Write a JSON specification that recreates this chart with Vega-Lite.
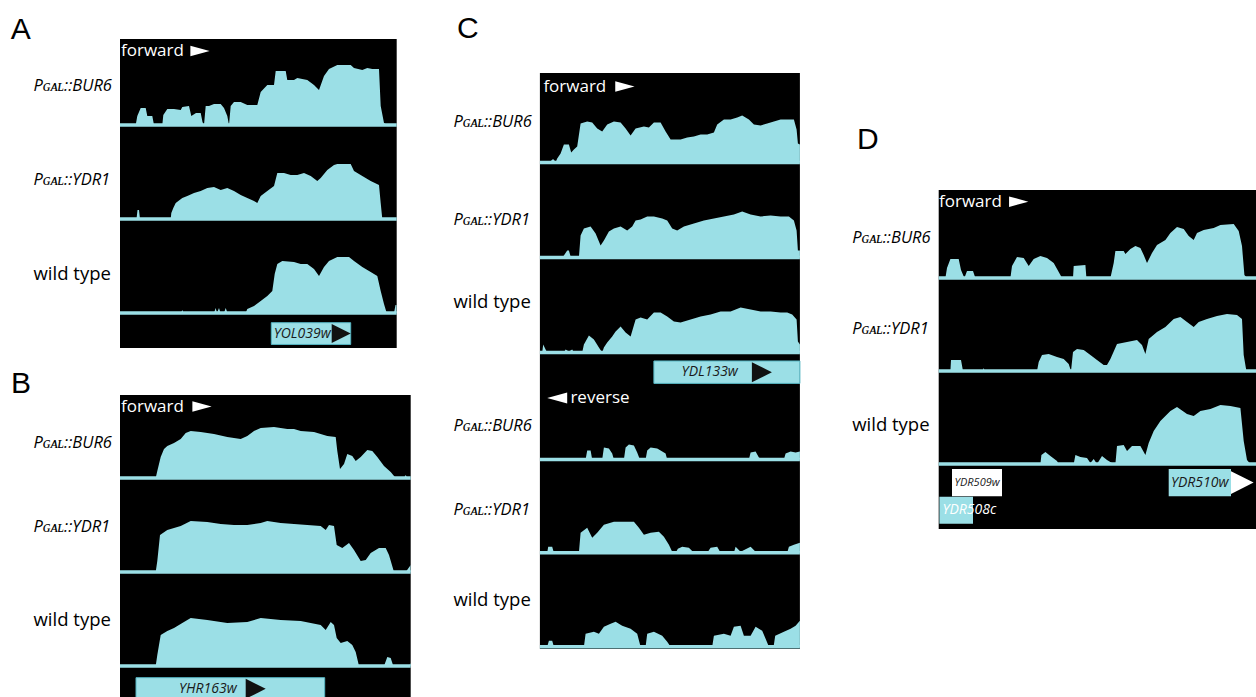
{
"$schema": "https://vega.github.io/schema/vega-lite/v6.json",
"padding": {"left": 10, "top": 0, "right": 0, "bottom": 0},
"background": "white",
"datasets": {
"A": [
{"t":"BUR6","x":0,"y":0},{"t":"BUR6","x":15.7,"y":0},{"t":"BUR6","x":17.3,"y":9},{"t":"BUR6","x":20.7,"y":17},{"t":"BUR6","x":25.7,"y":17},{"t":"BUR6","x":27.3,"y":9},{"t":"BUR6","x":32.3,"y":9},{"t":"BUR6","x":34,"y":0},{"t":"BUR6","x":42.3,"y":0},{"t":"BUR6","x":43.3,"y":10},{"t":"BUR6","x":47.3,"y":16},{"t":"BUR6","x":54,"y":16},{"t":"BUR6","x":60.7,"y":15},{"t":"BUR6","x":62.3,"y":18},{"t":"BUR6","x":69,"y":19},{"t":"BUR6","x":71.3,"y":9},{"t":"BUR6","x":76,"y":12},{"t":"BUR6","x":80.7,"y":12},{"t":"BUR6","x":82.5,"y":3},{"t":"BUR6","x":84,"y":0},{"t":"BUR6","x":85.7,"y":19},{"t":"BUR6","x":89,"y":19},{"t":"BUR6","x":94,"y":21},{"t":"BUR6","x":100.7,"y":21},{"t":"BUR6","x":104,"y":17},{"t":"BUR6","x":107.3,"y":9},{"t":"BUR6","x":109,"y":0},{"t":"BUR6","x":110.7,"y":19},{"t":"BUR6","x":114,"y":23},{"t":"BUR6","x":120.7,"y":23},{"t":"BUR6","x":127.3,"y":20},{"t":"BUR6","x":137.3,"y":20},{"t":"BUR6","x":140.7,"y":33},{"t":"BUR6","x":147.3,"y":40},{"t":"BUR6","x":154,"y":40},{"t":"BUR6","x":155.7,"y":54},{"t":"BUR6","x":165.7,"y":54},{"t":"BUR6","x":167.3,"y":45},{"t":"BUR6","x":174,"y":45},{"t":"BUR6","x":177.3,"y":47},{"t":"BUR6","x":187.3,"y":45},{"t":"BUR6","x":194,"y":40},{"t":"BUR6","x":199,"y":35},{"t":"BUR6","x":204,"y":49},{"t":"BUR6","x":209,"y":56},{"t":"BUR6","x":217.3,"y":60},{"t":"BUR6","x":230.7,"y":60},{"t":"BUR6","x":234,"y":57},{"t":"BUR6","x":242.3,"y":55},{"t":"BUR6","x":247.3,"y":57},{"t":"BUR6","x":252.3,"y":56},{"t":"BUR6","x":259,"y":56},{"t":"BUR6","x":260.7,"y":19},{"t":"BUR6","x":264,"y":2},{"t":"BUR6","x":267.3,"y":0},{"t":"BUR6","x":276.7,"y":0},
{"t":"YDR1","x":0,"y":0},{"t":"YDR1","x":16.5,"y":0},{"t":"YDR1","x":17.5,"y":9},{"t":"YDR1","x":19,"y":9},{"t":"YDR1","x":20,"y":0},{"t":"YDR1","x":50.7,"y":0},{"t":"YDR1","x":51.3,"y":6},{"t":"YDR1","x":53.3,"y":11},{"t":"YDR1","x":55.7,"y":16},{"t":"YDR1","x":62.3,"y":21},{"t":"YDR1","x":67.3,"y":23},{"t":"YDR1","x":74,"y":26},{"t":"YDR1","x":80.7,"y":28},{"t":"YDR1","x":87.3,"y":31},{"t":"YDR1","x":94,"y":32},{"t":"YDR1","x":100.7,"y":29},{"t":"YDR1","x":107.3,"y":31},{"t":"YDR1","x":114,"y":28},{"t":"YDR1","x":120.7,"y":24},{"t":"YDR1","x":127.3,"y":21},{"t":"YDR1","x":134,"y":18},{"t":"YDR1","x":137.3,"y":16},{"t":"YDR1","x":140.7,"y":23},{"t":"YDR1","x":147.3,"y":28},{"t":"YDR1","x":154,"y":33},{"t":"YDR1","x":157.3,"y":46},{"t":"YDR1","x":164,"y":46},{"t":"YDR1","x":170.7,"y":44},{"t":"YDR1","x":177.3,"y":44},{"t":"YDR1","x":184,"y":46},{"t":"YDR1","x":190.7,"y":43},{"t":"YDR1","x":197.3,"y":38},{"t":"YDR1","x":200.7,"y":41},{"t":"YDR1","x":207.3,"y":49},{"t":"YDR1","x":214,"y":54},{"t":"YDR1","x":217.3,"y":55},{"t":"YDR1","x":230.7,"y":55},{"t":"YDR1","x":234,"y":48},{"t":"YDR1","x":242.3,"y":43},{"t":"YDR1","x":250.7,"y":38},{"t":"YDR1","x":259,"y":34},{"t":"YDR1","x":260.7,"y":16},{"t":"YDR1","x":262.3,"y":0},{"t":"YDR1","x":276.7,"y":0},
{"t":"WT","x":0,"y":0},{"t":"WT","x":61,"y":0},{"t":"WT","x":62.3,"y":3},{"t":"WT","x":63.5,"y":0},{"t":"WT","x":94,"y":0},{"t":"WT","x":95.7,"y":5},{"t":"WT","x":97,"y":0},{"t":"WT","x":99,"y":5},{"t":"WT","x":100.5,"y":0},{"t":"WT","x":104,"y":0},{"t":"WT","x":105.7,"y":5},{"t":"WT","x":107.5,"y":0},{"t":"WT","x":125.7,"y":0},{"t":"WT","x":127.3,"y":4},{"t":"WT","x":134,"y":7},{"t":"WT","x":140.7,"y":12},{"t":"WT","x":147.3,"y":17},{"t":"WT","x":152.3,"y":22},{"t":"WT","x":154.7,"y":39},{"t":"WT","x":157.3,"y":49},{"t":"WT","x":162.3,"y":52},{"t":"WT","x":174,"y":51},{"t":"WT","x":180.7,"y":49},{"t":"WT","x":187.3,"y":49},{"t":"WT","x":194,"y":44},{"t":"WT","x":199,"y":37},{"t":"WT","x":204,"y":46},{"t":"WT","x":209,"y":52},{"t":"WT","x":217.3,"y":56},{"t":"WT","x":229,"y":56},{"t":"WT","x":234,"y":52},{"t":"WT","x":242.3,"y":46},{"t":"WT","x":250.7,"y":41},{"t":"WT","x":257.3,"y":37},{"t":"WT","x":260.7,"y":22},{"t":"WT","x":264,"y":9},{"t":"WT","x":266.7,"y":0},{"t":"WT","x":274,"y":0},{"t":"WT","x":275.5,"y":8},{"t":"WT","x":276.7,"y":8}
],
"B": [
{"t":"BUR6","x":0,"y":0},{"t":"BUR6","x":35.7,"y":0},{"t":"BUR6","x":37.3,"y":7},{"t":"BUR6","x":40.7,"y":21},{"t":"BUR6","x":44,"y":29},{"t":"BUR6","x":47.3,"y":32},{"t":"BUR6","x":54,"y":35},{"t":"BUR6","x":60.7,"y":39},{"t":"BUR6","x":65.7,"y":45},{"t":"BUR6","x":70.7,"y":47},{"t":"BUR6","x":80.7,"y":46},{"t":"BUR6","x":94,"y":44},{"t":"BUR6","x":107.3,"y":41},{"t":"BUR6","x":120.7,"y":39},{"t":"BUR6","x":127.3,"y":42},{"t":"BUR6","x":134,"y":47},{"t":"BUR6","x":140.7,"y":50},{"t":"BUR6","x":154,"y":51},{"t":"BUR6","x":167.3,"y":49},{"t":"BUR6","x":174,"y":49},{"t":"BUR6","x":180.7,"y":47},{"t":"BUR6","x":194,"y":46},{"t":"BUR6","x":207.3,"y":42},{"t":"BUR6","x":215.7,"y":41},{"t":"BUR6","x":217.3,"y":27},{"t":"BUR6","x":220,"y":9},{"t":"BUR6","x":224,"y":14},{"t":"BUR6","x":227.3,"y":24},{"t":"BUR6","x":232.3,"y":22},{"t":"BUR6","x":235.7,"y":17},{"t":"BUR6","x":240.7,"y":21},{"t":"BUR6","x":247.3,"y":28},{"t":"BUR6","x":252.3,"y":27},{"t":"BUR6","x":257.3,"y":21},{"t":"BUR6","x":264,"y":12},{"t":"BUR6","x":270.7,"y":6},{"t":"BUR6","x":275.7,"y":0},{"t":"BUR6","x":284,"y":0},{"t":"BUR6","x":285.7,"y":3},{"t":"BUR6","x":287.3,"y":0},{"t":"BUR6","x":290.7,"y":0},
{"t":"YDR1","x":0,"y":0},{"t":"YDR1","x":35.7,"y":0},{"t":"YDR1","x":37.3,"y":11},{"t":"YDR1","x":40,"y":37},{"t":"YDR1","x":47.3,"y":42},{"t":"YDR1","x":60.7,"y":46},{"t":"YDR1","x":70.7,"y":51},{"t":"YDR1","x":87.3,"y":50},{"t":"YDR1","x":100.7,"y":48},{"t":"YDR1","x":114,"y":47},{"t":"YDR1","x":127.3,"y":47},{"t":"YDR1","x":140.7,"y":49},{"t":"YDR1","x":147.3,"y":51},{"t":"YDR1","x":160.7,"y":49},{"t":"YDR1","x":174,"y":48},{"t":"YDR1","x":187.3,"y":47},{"t":"YDR1","x":200.7,"y":46},{"t":"YDR1","x":205.7,"y":42},{"t":"YDR1","x":209,"y":47},{"t":"YDR1","x":214,"y":46},{"t":"YDR1","x":216.7,"y":27},{"t":"YDR1","x":222.3,"y":24},{"t":"YDR1","x":229,"y":29},{"t":"YDR1","x":234,"y":22},{"t":"YDR1","x":240.7,"y":11},{"t":"YDR1","x":245.7,"y":12},{"t":"YDR1","x":250.7,"y":19},{"t":"YDR1","x":259,"y":24},{"t":"YDR1","x":265.7,"y":24},{"t":"YDR1","x":269,"y":17},{"t":"YDR1","x":274,"y":0},{"t":"YDR1","x":285.7,"y":0},{"t":"YDR1","x":290.7,"y":7},
{"t":"WT","x":0,"y":0},{"t":"WT","x":35.7,"y":0},{"t":"WT","x":37.3,"y":11},{"t":"WT","x":40.7,"y":31},{"t":"WT","x":47.3,"y":35},{"t":"WT","x":54,"y":38},{"t":"WT","x":62.3,"y":43},{"t":"WT","x":70.7,"y":48},{"t":"WT","x":87.3,"y":46},{"t":"WT","x":107.3,"y":43},{"t":"WT","x":127.3,"y":44},{"t":"WT","x":140.7,"y":48},{"t":"WT","x":160.7,"y":46},{"t":"WT","x":180.7,"y":45},{"t":"WT","x":200.7,"y":41},{"t":"WT","x":205.7,"y":36},{"t":"WT","x":210.7,"y":44},{"t":"WT","x":214,"y":41},{"t":"WT","x":216.7,"y":28},{"t":"WT","x":220.7,"y":23},{"t":"WT","x":227.3,"y":25},{"t":"WT","x":232.3,"y":21},{"t":"WT","x":235.7,"y":14},{"t":"WT","x":239,"y":0},{"t":"WT","x":264,"y":0},{"t":"WT","x":267.3,"y":9},{"t":"WT","x":270.7,"y":8},{"t":"WT","x":273.3,"y":0},{"t":"WT","x":289,"y":0},{"t":"WT","x":290.7,"y":3}
],
"C": [
{"t":"fBUR6","x":0,"y":1},{"t":"fBUR6","x":10.7,"y":1},{"t":"fBUR6","x":12.3,"y":3},{"t":"fBUR6","x":14,"y":3},{"t":"fBUR6","x":15.7,"y":0},{"t":"fBUR6","x":17.3,"y":4},{"t":"fBUR6","x":20.7,"y":9},{"t":"fBUR6","x":24,"y":18},{"t":"fBUR6","x":29,"y":18},{"t":"fBUR6","x":31.3,"y":10},{"t":"fBUR6","x":34,"y":13},{"t":"fBUR6","x":37.3,"y":16},{"t":"fBUR6","x":40.7,"y":39},{"t":"fBUR6","x":47.3,"y":41},{"t":"fBUR6","x":52.3,"y":40},{"t":"fBUR6","x":57.3,"y":34},{"t":"fBUR6","x":62.3,"y":31},{"t":"fBUR6","x":67.3,"y":38},{"t":"fBUR6","x":74,"y":41},{"t":"fBUR6","x":80.7,"y":40},{"t":"fBUR6","x":85.7,"y":34},{"t":"fBUR6","x":90.7,"y":27},{"t":"fBUR6","x":95.7,"y":34},{"t":"fBUR6","x":104,"y":36},{"t":"fBUR6","x":109,"y":35},{"t":"fBUR6","x":114,"y":40},{"t":"fBUR6","x":120.7,"y":40},{"t":"fBUR6","x":125.7,"y":31},{"t":"fBUR6","x":130.7,"y":23},{"t":"fBUR6","x":140.7,"y":23},{"t":"fBUR6","x":147.3,"y":25},{"t":"fBUR6","x":154,"y":26},{"t":"fBUR6","x":160.7,"y":28},{"t":"fBUR6","x":167.3,"y":28},{"t":"fBUR6","x":174,"y":30},{"t":"fBUR6","x":177.3,"y":38},{"t":"fBUR6","x":184,"y":43},{"t":"fBUR6","x":190.7,"y":43},{"t":"fBUR6","x":197.3,"y":45},{"t":"fBUR6","x":202.3,"y":47},{"t":"fBUR6","x":209,"y":43},{"t":"fBUR6","x":214,"y":38},{"t":"fBUR6","x":220.7,"y":37},{"t":"fBUR6","x":227.3,"y":39},{"t":"fBUR6","x":234,"y":41},{"t":"fBUR6","x":240.7,"y":43},{"t":"fBUR6","x":247.3,"y":43},{"t":"fBUR6","x":254,"y":43},{"t":"fBUR6","x":256.7,"y":33},{"t":"fBUR6","x":258,"y":19},{"t":"fBUR6","x":260,"y":18},
{"t":"fYDR1","x":0,"y":0},{"t":"fYDR1","x":22.3,"y":0},{"t":"fYDR1","x":24,"y":2},{"t":"fYDR1","x":27.3,"y":7},{"t":"fYDR1","x":29,"y":7},{"t":"fYDR1","x":30.7,"y":1},{"t":"fYDR1","x":34,"y":0},{"t":"fYDR1","x":39,"y":0},{"t":"fYDR1","x":40.7,"y":22},{"t":"fYDR1","x":44,"y":29},{"t":"fYDR1","x":50.7,"y":31},{"t":"fYDR1","x":55.7,"y":24},{"t":"fYDR1","x":60.7,"y":12},{"t":"fYDR1","x":64,"y":17},{"t":"fYDR1","x":69,"y":26},{"t":"fYDR1","x":74,"y":29},{"t":"fYDR1","x":80.7,"y":31},{"t":"fYDR1","x":87.3,"y":27},{"t":"fYDR1","x":92.3,"y":31},{"t":"fYDR1","x":95.7,"y":37},{"t":"fYDR1","x":100.7,"y":38},{"t":"fYDR1","x":107.3,"y":41},{"t":"fYDR1","x":114,"y":41},{"t":"fYDR1","x":122.3,"y":39},{"t":"fYDR1","x":127.3,"y":37},{"t":"fYDR1","x":132.3,"y":29},{"t":"fYDR1","x":137.3,"y":27},{"t":"fYDR1","x":144,"y":31},{"t":"fYDR1","x":154,"y":34},{"t":"fYDR1","x":164,"y":37},{"t":"fYDR1","x":174,"y":39},{"t":"fYDR1","x":184,"y":41},{"t":"fYDR1","x":194,"y":43},{"t":"fYDR1","x":202.3,"y":46},{"t":"fYDR1","x":210.7,"y":43},{"t":"fYDR1","x":220.7,"y":41},{"t":"fYDR1","x":230.7,"y":42},{"t":"fYDR1","x":240.7,"y":41},{"t":"fYDR1","x":249,"y":41},{"t":"fYDR1","x":254,"y":37},{"t":"fYDR1","x":256.7,"y":27},{"t":"fYDR1","x":258,"y":7},{"t":"fYDR1","x":260,"y":7},
{"t":"fWT","x":0,"y":0},{"t":"fWT","x":2.3,"y":0},{"t":"fWT","x":3.3,"y":8},{"t":"fWT","x":5.7,"y":3},{"t":"fWT","x":7.3,"y":0},{"t":"fWT","x":24,"y":0},{"t":"fWT","x":25.7,"y":3},{"t":"fWT","x":29,"y":1},{"t":"fWT","x":32.3,"y":3},{"t":"fWT","x":34,"y":0},{"t":"fWT","x":42.3,"y":0},{"t":"fWT","x":44,"y":8},{"t":"fWT","x":49,"y":17},{"t":"fWT","x":54,"y":13},{"t":"fWT","x":59,"y":5},{"t":"fWT","x":62.3,"y":0},{"t":"fWT","x":64,"y":5},{"t":"fWT","x":67.3,"y":10},{"t":"fWT","x":72.3,"y":16},{"t":"fWT","x":75.7,"y":21},{"t":"fWT","x":80.7,"y":26},{"t":"fWT","x":85.7,"y":20},{"t":"fWT","x":90.7,"y":16},{"t":"fWT","x":95.7,"y":33},{"t":"fWT","x":100.7,"y":35},{"t":"fWT","x":107.3,"y":33},{"t":"fWT","x":114,"y":40},{"t":"fWT","x":120.7,"y":40},{"t":"fWT","x":127.3,"y":36},{"t":"fWT","x":134,"y":31},{"t":"fWT","x":140.7,"y":30},{"t":"fWT","x":150.7,"y":33},{"t":"fWT","x":160.7,"y":36},{"t":"fWT","x":170.7,"y":38},{"t":"fWT","x":180.7,"y":41},{"t":"fWT","x":190.7,"y":41},{"t":"fWT","x":200.7,"y":45},{"t":"fWT","x":210.7,"y":43},{"t":"fWT","x":220.7,"y":41},{"t":"fWT","x":230.7,"y":41},{"t":"fWT","x":240.7,"y":40},{"t":"fWT","x":247.3,"y":40},{"t":"fWT","x":252.3,"y":38},{"t":"fWT","x":256.7,"y":33},{"t":"fWT","x":258,"y":11},{"t":"fWT","x":260,"y":8},
{"t":"rBUR6","x":0,"y":0},{"t":"rBUR6","x":45.7,"y":0},{"t":"rBUR6","x":47.3,"y":9},{"t":"rBUR6","x":50.7,"y":9},{"t":"rBUR6","x":52.3,"y":0},{"t":"rBUR6","x":62.3,"y":0},{"t":"rBUR6","x":64,"y":12},{"t":"rBUR6","x":69,"y":11},{"t":"rBUR6","x":72.3,"y":6},{"t":"rBUR6","x":74,"y":0},{"t":"rBUR6","x":84,"y":0},{"t":"rBUR6","x":85.7,"y":12},{"t":"rBUR6","x":89,"y":15},{"t":"rBUR6","x":94,"y":14},{"t":"rBUR6","x":97.3,"y":7},{"t":"rBUR6","x":100,"y":0},{"t":"rBUR6","x":105.7,"y":0},{"t":"rBUR6","x":107.3,"y":9},{"t":"rBUR6","x":110.7,"y":12},{"t":"rBUR6","x":117.3,"y":11},{"t":"rBUR6","x":120.7,"y":9},{"t":"rBUR6","x":125.7,"y":6},{"t":"rBUR6","x":127.3,"y":0},{"t":"rBUR6","x":209,"y":0},{"t":"rBUR6","x":210.7,"y":7},{"t":"rBUR6","x":215.7,"y":8},{"t":"rBUR6","x":219,"y":2},{"t":"rBUR6","x":222.3,"y":0},{"t":"rBUR6","x":244,"y":0},{"t":"rBUR6","x":245.7,"y":6},{"t":"rBUR6","x":250.7,"y":8},{"t":"rBUR6","x":255.7,"y":7},{"t":"rBUR6","x":260,"y":8},
{"t":"rYDR1","x":0,"y":0},{"t":"rYDR1","x":7.3,"y":0},{"t":"rYDR1","x":8.3,"y":6},{"t":"rYDR1","x":12.3,"y":6},{"t":"rYDR1","x":14,"y":0},{"t":"rYDR1","x":39,"y":0},{"t":"rYDR1","x":40.7,"y":20},{"t":"rYDR1","x":47.3,"y":25},{"t":"rYDR1","x":52.3,"y":15},{"t":"rYDR1","x":57.3,"y":20},{"t":"rYDR1","x":64,"y":28},{"t":"rYDR1","x":74,"y":31},{"t":"rYDR1","x":84,"y":31},{"t":"rYDR1","x":94,"y":31},{"t":"rYDR1","x":99,"y":25},{"t":"rYDR1","x":104,"y":18},{"t":"rYDR1","x":110.7,"y":20},{"t":"rYDR1","x":119,"y":21},{"t":"rYDR1","x":124,"y":16},{"t":"rYDR1","x":129,"y":8},{"t":"rYDR1","x":132.3,"y":1},{"t":"rYDR1","x":135.7,"y":0},{"t":"rYDR1","x":138,"y":4},{"t":"rYDR1","x":142.3,"y":6},{"t":"rYDR1","x":149,"y":5},{"t":"rYDR1","x":154,"y":0},{"t":"rYDR1","x":167.3,"y":0},{"t":"rYDR1","x":170.7,"y":5},{"t":"rYDR1","x":177.3,"y":6},{"t":"rYDR1","x":180.7,"y":0},{"t":"rYDR1","x":194,"y":0},{"t":"rYDR1","x":195.7,"y":6},{"t":"rYDR1","x":200.7,"y":1},{"t":"rYDR1","x":210.7,"y":6},{"t":"rYDR1","x":215.7,"y":1},{"t":"rYDR1","x":220.7,"y":0},{"t":"rYDR1","x":247.3,"y":0},{"t":"rYDR1","x":249,"y":6},{"t":"rYDR1","x":254,"y":8},{"t":"rYDR1","x":260,"y":10},
{"t":"rWT","x":0,"y":0},{"t":"rWT","x":7.3,"y":0},{"t":"rWT","x":9,"y":6},{"t":"rWT","x":12.3,"y":6},{"t":"rWT","x":14,"y":0},{"t":"rWT","x":44,"y":0},{"t":"rWT","x":45.7,"y":13},{"t":"rWT","x":54,"y":15},{"t":"rWT","x":59,"y":13},{"t":"rWT","x":64,"y":20},{"t":"rWT","x":70.7,"y":23},{"t":"rWT","x":75.7,"y":25},{"t":"rWT","x":82.3,"y":21},{"t":"rWT","x":90.7,"y":18},{"t":"rWT","x":97.3,"y":13},{"t":"rWT","x":100.7,"y":0},{"t":"rWT","x":105.7,"y":0},{"t":"rWT","x":107.3,"y":13},{"t":"rWT","x":114,"y":15},{"t":"rWT","x":122.3,"y":11},{"t":"rWT","x":127.3,"y":5},{"t":"rWT","x":130.7,"y":0},{"t":"rWT","x":172.3,"y":0},{"t":"rWT","x":174,"y":11},{"t":"rWT","x":184,"y":13},{"t":"rWT","x":190.7,"y":11},{"t":"rWT","x":194,"y":20},{"t":"rWT","x":200.7,"y":21},{"t":"rWT","x":204,"y":11},{"t":"rWT","x":210.7,"y":11},{"t":"rWT","x":215.7,"y":20},{"t":"rWT","x":222.3,"y":16},{"t":"rWT","x":225.7,"y":8},{"t":"rWT","x":229,"y":0},{"t":"rWT","x":233.7,"y":0},{"t":"rWT","x":235.3,"y":11},{"t":"rWT","x":244,"y":15},{"t":"rWT","x":250.7,"y":18},{"t":"rWT","x":255.7,"y":21},{"t":"rWT","x":260,"y":26}
],
"D": [
{"t":"BUR6","x":0,"y":0},{"t":"BUR6","x":6.7,"y":0},{"t":"BUR6","x":8.3,"y":10},{"t":"BUR6","x":11.7,"y":19},{"t":"BUR6","x":20,"y":19},{"t":"BUR6","x":22.3,"y":8},{"t":"BUR6","x":25.7,"y":0},{"t":"BUR6","x":28.3,"y":7},{"t":"BUR6","x":34.3,"y":7},{"t":"BUR6","x":36.7,"y":0},{"t":"BUR6","x":71.7,"y":0},{"t":"BUR6","x":73.3,"y":12},{"t":"BUR6","x":78.3,"y":21},{"t":"BUR6","x":85,"y":20},{"t":"BUR6","x":90,"y":12},{"t":"BUR6","x":95,"y":19},{"t":"BUR6","x":101.7,"y":22},{"t":"BUR6","x":108.3,"y":20},{"t":"BUR6","x":115,"y":15},{"t":"BUR6","x":121.7,"y":3},{"t":"BUR6","x":123.3,"y":0},{"t":"BUR6","x":134.3,"y":0},{"t":"BUR6","x":135,"y":12},{"t":"BUR6","x":146.7,"y":13},{"t":"BUR6","x":147.7,"y":0},{"t":"BUR6","x":171.7,"y":0},{"t":"BUR6","x":175,"y":15},{"t":"BUR6","x":176.7,"y":27},{"t":"BUR6","x":185,"y":27},{"t":"BUR6","x":186.7,"y":24},{"t":"BUR6","x":191.7,"y":29},{"t":"BUR6","x":196.7,"y":32},{"t":"BUR6","x":201.7,"y":30},{"t":"BUR6","x":205,"y":23},{"t":"BUR6","x":208.3,"y":15},{"t":"BUR6","x":213.3,"y":25},{"t":"BUR6","x":218.3,"y":33},{"t":"BUR6","x":226.7,"y":38},{"t":"BUR6","x":231.7,"y":45},{"t":"BUR6","x":238.3,"y":51},{"t":"BUR6","x":245,"y":49},{"t":"BUR6","x":250,"y":42},{"t":"BUR6","x":255,"y":38},{"t":"BUR6","x":258.3,"y":45},{"t":"BUR6","x":265,"y":48},{"t":"BUR6","x":275,"y":50},{"t":"BUR6","x":281.7,"y":53},{"t":"BUR6","x":295,"y":54},{"t":"BUR6","x":300,"y":47},{"t":"BUR6","x":303.3,"y":32},{"t":"BUR6","x":305.7,"y":3},{"t":"BUR6","x":308.3,"y":0},{"t":"BUR6","x":317.7,"y":0},
{"t":"YDR1","x":0,"y":0},{"t":"YDR1","x":11.7,"y":0},{"t":"YDR1","x":12.3,"y":11},{"t":"YDR1","x":22.3,"y":11},{"t":"YDR1","x":24.3,"y":0},{"t":"YDR1","x":44,"y":0},{"t":"YDR1","x":45,"y":3},{"t":"YDR1","x":46,"y":0},{"t":"YDR1","x":98.3,"y":0},{"t":"YDR1","x":100,"y":9},{"t":"YDR1","x":103.3,"y":16},{"t":"YDR1","x":110,"y":17},{"t":"YDR1","x":118.3,"y":14},{"t":"YDR1","x":125,"y":12},{"t":"YDR1","x":130,"y":7},{"t":"YDR1","x":132.3,"y":0},{"t":"YDR1","x":134.3,"y":19},{"t":"YDR1","x":138.3,"y":22},{"t":"YDR1","x":145,"y":21},{"t":"YDR1","x":151.7,"y":16},{"t":"YDR1","x":158.3,"y":11},{"t":"YDR1","x":165,"y":6},{"t":"YDR1","x":168.3,"y":6},{"t":"YDR1","x":171.7,"y":12},{"t":"YDR1","x":178.3,"y":27},{"t":"YDR1","x":188.3,"y":29},{"t":"YDR1","x":198.3,"y":31},{"t":"YDR1","x":203.3,"y":26},{"t":"YDR1","x":206.7,"y":17},{"t":"YDR1","x":210,"y":32},{"t":"YDR1","x":218.3,"y":39},{"t":"YDR1","x":226.7,"y":44},{"t":"YDR1","x":235,"y":52},{"t":"YDR1","x":241.7,"y":54},{"t":"YDR1","x":248.3,"y":49},{"t":"YDR1","x":255,"y":44},{"t":"YDR1","x":260,"y":49},{"t":"YDR1","x":268.3,"y":52},{"t":"YDR1","x":278.3,"y":55},{"t":"YDR1","x":288.3,"y":57},{"t":"YDR1","x":298.3,"y":56},{"t":"YDR1","x":303.3,"y":52},{"t":"YDR1","x":305,"y":16},{"t":"YDR1","x":307.7,"y":0},{"t":"YDR1","x":317.7,"y":0},
{"t":"WT","x":0,"y":0},{"t":"WT","x":101.7,"y":0},{"t":"WT","x":102.7,"y":9},{"t":"WT","x":106.7,"y":12},{"t":"WT","x":111.7,"y":8},{"t":"WT","x":118.3,"y":3},{"t":"WT","x":120,"y":0},{"t":"WT","x":135,"y":0},{"t":"WT","x":136.7,"y":9},{"t":"WT","x":141.7,"y":7},{"t":"WT","x":148.3,"y":6},{"t":"WT","x":151.7,"y":1},{"t":"WT","x":155,"y":5},{"t":"WT","x":158.3,"y":0},{"t":"WT","x":163.3,"y":8},{"t":"WT","x":168.3,"y":4},{"t":"WT","x":173.3,"y":1},{"t":"WT","x":176.7,"y":0},{"t":"WT","x":178.3,"y":18},{"t":"WT","x":185,"y":19},{"t":"WT","x":188.3,"y":13},{"t":"WT","x":193.3,"y":18},{"t":"WT","x":201.7,"y":18},{"t":"WT","x":206.7,"y":9},{"t":"WT","x":210,"y":21},{"t":"WT","x":215,"y":33},{"t":"WT","x":221.7,"y":43},{"t":"WT","x":231.7,"y":53},{"t":"WT","x":238.3,"y":57},{"t":"WT","x":248.3,"y":50},{"t":"WT","x":255,"y":48},{"t":"WT","x":261.7,"y":53},{"t":"WT","x":271.7,"y":55},{"t":"WT","x":281.7,"y":59},{"t":"WT","x":291.7,"y":58},{"t":"WT","x":301.7,"y":56},{"t":"WT","x":305,"y":23},{"t":"WT","x":308.3,"y":4},{"t":"WT","x":311.7,"y":0},{"t":"WT","x":317.7,"y":0}
]
},
"spacing": 39.9,
"hconcat": [
{"spacing": 0, "vconcat": [
 {"width": 1, "height": 14.8, "data": {"values": [{}]}, "mark": {"type": "text", "text": ""}},
 {"spacing": 21, "vconcat": [
 {"spacing": -1, "vconcat": [
  {"width": 276.7, "height": 94, "view": {"fill": "black"}, "data": {"name": "A"},
   "title": {"text": "A", "dx": -109.3, "offset": -6},
   "layer": [
    {"transform": [{"filter": "datum.t==='BUR6'"}], "mark": {"type": "area", "color": "#9bdfe6", "clip": true},
     "encoding": {"x": {"field": "x", "type": "quantitative", "scale": {"domain": [0, 276.7], "nice": false, "zero": false}, "axis": null},
      "y": {"field": "y", "type": "quantitative", "scale": {"domain": [-8, 86], "nice": false, "zero": false}, "axis": {"title": "Pɢᴀʟ::BUR6", "titleY": 51.5}},
      "y2": {"datum": 0}}},
    {"data": {"values": [{}]}, "mark": {"type": "rule", "color": "#9bdfe6", "strokeWidth": 3.5}, "encoding": {"y": {"datum": 0}}},
    {"data": {"values": [{}]}, "mark": {"type": "text", "text": "forward", "color": "white", "align": "left", "baseline": "alphabetic", "fontSize": 17, "font": "Open Sans"}, "encoding": {"x": {"datum": 1}, "y": {"datum": 69.3}}},
    {"data": {"values": [{}]}, "mark": {"type": "point", "shape": "M-1,-0.55L1,0L-1,0.55Z", "filled": true, "color": "white", "opacity": 1, "size": 372, "strokeWidth": 0}, "encoding": {"x": {"datum": 80}, "y": {"datum": 74}}}
   ]},
  {"width": 276.7, "height": 94, "view": {"fill": "black"}, "data": {"name": "A"},
   "layer": [
    {"transform": [{"filter": "datum.t==='YDR1'"}], "mark": {"type": "area", "color": "#9bdfe6", "clip": true},
     "encoding": {"x": {"field": "x", "type": "quantitative", "scale": {"domain": [0, 276.7], "nice": false, "zero": false}, "axis": null},
      "y": {"field": "y", "type": "quantitative", "scale": {"domain": [-8, 86], "nice": false, "zero": false}, "axis": {"title": "Pɢᴀʟ::YDR1", "titleY": 51}},
      "y2": {"datum": 0}}},
    {"data": {"values": [{}]}, "mark": {"type": "rule", "color": "#9bdfe6", "strokeWidth": 3.5}, "encoding": {"y": {"datum": 0}}}
   ]},
  {"width": 276.7, "height": 94, "view": {"fill": "black"}, "data": {"name": "A"},
   "layer": [
    {"transform": [{"filter": "datum.t==='WT'"}], "mark": {"type": "area", "color": "#9bdfe6", "clip": true},
     "encoding": {"x": {"field": "x", "type": "quantitative", "scale": {"domain": [0, 276.7], "nice": false, "zero": false}, "axis": null},
      "y": {"field": "y", "type": "quantitative", "scale": {"domain": [-8, 86], "nice": false, "zero": false}, "axis": {"title": "wild type", "titleY": 52, "titleFontStyle": "normal", "titleFontSize": 18.5}},
      "y2": {"datum": 0}}},
    {"data": {"values": [{}]}, "mark": {"type": "rule", "color": "#9bdfe6", "strokeWidth": 3.5}, "encoding": {"y": {"datum": 0}}}
   ]},
  {"width": 276.7, "height": 27, "view": {"fill": "black"},
   "data": {"values": [{"g": "YOL039w", "s": 151.3, "e": 230.7, "m": 211.7, "l": "f"}]},
   "encoding": {"y": {"field": "l", "type": "nominal", "scale": {"paddingInner": 0, "paddingOuter": 0.12, "align": 0.32}, "axis": null}},
   "layer": [
    {"mark": {"type": "rect", "color": "#9bdfe6", "stroke": "#56b5c2", "strokeWidth": 1}, "encoding": {"x": {"field": "s", "type": "quantitative", "scale": {"domain": [0, 276.7], "nice": false, "zero": false}, "axis": null}, "x2": {"field": "e"}}},
    {"mark": {"type": "text", "align": "right", "dx": -1, "fontSize": 14, "fontStyle": "italic", "font": "Open Sans", "color": "#1a1a1a", "baseline": "middle"}, "encoding": {"x": {"field": "m", "type": "quantitative"}, "text": {"field": "g"}}},
    {"mark": {"type": "point", "shape": "M-1,-1L1,0L-1,1Z", "filled": true, "color": "#111111", "opacity": 1, "size": 361, "strokeWidth": 0, "xOffset": 9.5}, "encoding": {"x": {"field": "m", "type": "quantitative"}}}
   ]}
 ]},
 {"spacing": -1, "vconcat": [
  {"width": 290.7, "height": 94, "view": {"fill": "black"}, "data": {"name": "B"},
   "title": {"text": "B", "dx": -109, "offset": -4},
   "layer": [
    {"transform": [{"filter": "datum.t==='BUR6'"}], "mark": {"type": "area", "color": "#9bdfe6", "clip": true},
     "encoding": {"x": {"field": "x", "type": "quantitative", "scale": {"domain": [0, 290.7], "nice": false, "zero": false}, "axis": null},
      "y": {"field": "y", "type": "quantitative", "scale": {"domain": [-11, 83], "nice": false, "zero": false}, "axis": {"title": "Pɢᴀʟ::BUR6", "titleY": 52.4}},
      "y2": {"datum": 0}}},
    {"data": {"values": [{}]}, "mark": {"type": "rule", "color": "#9bdfe6", "strokeWidth": 3.5}, "encoding": {"y": {"datum": 0}}},
    {"data": {"values": [{}]}, "mark": {"type": "text", "text": "forward", "color": "white", "align": "left", "baseline": "alphabetic", "fontSize": 17, "font": "Open Sans"}, "encoding": {"x": {"datum": 1}, "y": {"datum": 65.6}}},
    {"data": {"values": [{}]}, "mark": {"type": "point", "shape": "M-1,-0.55L1,0L-1,0.55Z", "filled": true, "color": "white", "opacity": 1, "size": 372, "strokeWidth": 0}, "encoding": {"x": {"datum": 82}, "y": {"datum": 71.5}}}
   ]},
  {"width": 290.7, "height": 94, "view": {"fill": "black"}, "data": {"name": "B"},
   "layer": [
    {"transform": [{"filter": "datum.t==='YDR1'"}], "mark": {"type": "area", "color": "#9bdfe6", "clip": true},
     "encoding": {"x": {"field": "x", "type": "quantitative", "scale": {"domain": [0, 290.7], "nice": false, "zero": false}, "axis": null},
      "y": {"field": "y", "type": "quantitative", "scale": {"domain": [-11, 83], "nice": false, "zero": false}, "axis": {"title": "Pɢᴀʟ::YDR1", "titleY": 42}},
      "y2": {"datum": 0}}},
    {"data": {"values": [{}]}, "mark": {"type": "rule", "color": "#9bdfe6", "strokeWidth": 3.5}, "encoding": {"y": {"datum": 0}}}
   ]},
  {"width": 290.7, "height": 94, "view": {"fill": "black"}, "data": {"name": "B"},
   "layer": [
    {"transform": [{"filter": "datum.t==='WT'"}], "mark": {"type": "area", "color": "#9bdfe6", "clip": true},
     "encoding": {"x": {"field": "x", "type": "quantitative", "scale": {"domain": [0, 290.7], "nice": false, "zero": false}, "axis": null},
      "y": {"field": "y", "type": "quantitative", "scale": {"domain": [-11, 83], "nice": false, "zero": false}, "axis": {"title": "wild type", "titleY": 42.4, "titleFontStyle": "normal", "titleFontSize": 18.5}},
      "y2": {"datum": 0}}},
    {"data": {"values": [{}]}, "mark": {"type": "rule", "color": "#9bdfe6", "strokeWidth": 3.5}, "encoding": {"y": {"datum": 0}}}
   ]},
  {"width": 290.7, "height": 23.7, "view": {"fill": "black"},
   "data": {"values": [{"g": "YHR163w", "s": 16, "e": 204.7, "m": 117.7, "l": "f"}]},
   "encoding": {"y": {"field": "l", "type": "nominal", "scale": {"paddingInner": 0, "paddingOuter": 0.03, "align": 0.5}, "axis": null}},
   "layer": [
    {"mark": {"type": "rect", "color": "#9bdfe6", "stroke": "#56b5c2", "strokeWidth": 1}, "encoding": {"x": {"field": "s", "type": "quantitative", "scale": {"domain": [0, 290.7], "nice": false, "zero": false}, "axis": null}, "x2": {"field": "e"}}},
    {"mark": {"type": "text", "align": "right", "dx": -1, "fontSize": 14, "fontStyle": "italic", "font": "Open Sans", "color": "#1a1a1a", "baseline": "middle"}, "encoding": {"x": {"field": "m", "type": "quantitative"}, "text": {"field": "g"}}},
    {"mark": {"type": "point", "shape": "M-1,-1L1,0L-1,1Z", "filled": true, "color": "#111111", "opacity": 1, "size": 400, "strokeWidth": 0, "xOffset": 18}, "encoding": {"x": {"field": "m", "type": "quantitative"}}}
   ]}
 ]}
 ]}
]},
{"spacing": 49.8, "hconcat": [
 {"spacing": 0, "vconcat": [
  {"width": 1, "height": 13.8, "data": {"values": [{}]}, "mark": {"type": "text", "text": ""}},
  {"spacing": -1, "vconcat": [
  {"width": 260, "height": 95, "view": {"fill": "black"}, "data": {"name": "C"},
   "title": {"text": "C", "dx": -82.8, "offset": 29},
   "layer": [
    {"transform": [{"filter": "datum.t==='fBUR6'"}], "mark": {"type": "area", "color": "#9bdfe6", "clip": true},
     "encoding": {"x": {"field": "x", "type": "quantitative", "scale": {"domain": [0, 260], "nice": false, "zero": false}, "axis": null},
      "y": {"field": "y", "type": "quantitative", "scale": {"domain": [-5.5, 89.5], "nice": false, "zero": false}, "axis": {"title": "Pɢᴀʟ::BUR6", "titleY": 53.4}},
      "y2": {"datum": 0}}},
    {"data": {"values": [{}]}, "mark": {"type": "rule", "color": "#9bdfe6", "strokeWidth": 3.5}, "encoding": {"y": {"datum": 0}}},
    {"data": {"values": [{}]}, "mark": {"type": "text", "text": "forward", "color": "white", "align": "left", "baseline": "alphabetic", "fontSize": 17, "font": "Open Sans"}, "encoding": {"x": {"datum": 3.5}, "y": {"datum": 70.5}}},
    {"data": {"values": [{}]}, "mark": {"type": "point", "shape": "M-1,-0.55L1,0L-1,0.55Z", "filled": true, "color": "white", "opacity": 1, "size": 372, "strokeWidth": 0}, "encoding": {"x": {"datum": 85}, "y": {"datum": 76}}}
   ]},
  {"width": 260, "height": 95, "view": {"fill": "black"}, "data": {"name": "C"},
   "layer": [
    {"transform": [{"filter": "datum.t==='fYDR1'"}], "mark": {"type": "area", "color": "#9bdfe6", "clip": true},
     "encoding": {"x": {"field": "x", "type": "quantitative", "scale": {"domain": [0, 260], "nice": false, "zero": false}, "axis": null},
      "y": {"field": "y", "type": "quantitative", "scale": {"domain": [-5.5, 89.5], "nice": false, "zero": false}, "axis": {"title": "Pɢᴀʟ::YDR1", "titleY": 56.7}},
      "y2": {"datum": 0}}},
    {"data": {"values": [{}]}, "mark": {"type": "rule", "color": "#9bdfe6", "strokeWidth": 3.5}, "encoding": {"y": {"datum": 0}}}
   ]},
  {"width": 260, "height": 95, "view": {"fill": "black"}, "data": {"name": "C"},
   "layer": [
    {"transform": [{"filter": "datum.t==='fWT'"}], "mark": {"type": "area", "color": "#9bdfe6", "clip": true},
     "encoding": {"x": {"field": "x", "type": "quantitative", "scale": {"domain": [0, 260], "nice": false, "zero": false}, "axis": null},
      "y": {"field": "y", "type": "quantitative", "scale": {"domain": [-5.5, 89.5], "nice": false, "zero": false}, "axis": {"title": "wild type", "titleY": 44, "titleFontStyle": "normal", "titleFontSize": 18.5}},
      "y2": {"datum": 0}}},
    {"data": {"values": [{}]}, "mark": {"type": "rule", "color": "#9bdfe6", "strokeWidth": 3.5}, "encoding": {"y": {"datum": 0}}}
   ]},
  {"width": 260, "height": 32, "view": {"fill": "black"},
   "data": {"values": [{"g": "YDL133w", "s": 114, "e": 260, "m": 199, "l": "f"}]},
   "encoding": {"y": {"field": "l", "type": "nominal", "scale": {"paddingInner": 0, "paddingOuter": 0.214, "align": 0.31}, "axis": null}},
   "layer": [
    {"mark": {"type": "rect", "color": "#9bdfe6", "stroke": "#56b5c2", "strokeWidth": 1}, "encoding": {"x": {"field": "s", "type": "quantitative", "scale": {"domain": [0, 260], "nice": false, "zero": false}, "axis": null}, "x2": {"field": "e"}}},
    {"mark": {"type": "text", "align": "right", "dx": -1, "fontSize": 14, "fontStyle": "italic", "font": "Open Sans", "color": "#1a1a1a", "baseline": "middle"}, "encoding": {"x": {"field": "m", "type": "quantitative"}, "text": {"field": "g"}}},
    {"mark": {"type": "point", "shape": "M-1,-1L1,0L-1,1Z", "filled": true, "color": "#111111", "opacity": 1, "size": 400, "strokeWidth": 0, "xOffset": 23}, "encoding": {"x": {"field": "m", "type": "quantitative"}}}
   ]},
  {"width": 260, "height": 72, "view": {"fill": "black"}, "data": {"name": "C"},
   "layer": [
    {"transform": [{"filter": "datum.t==='rBUR6'"}], "mark": {"type": "area", "color": "#9bdfe6", "clip": true},
     "encoding": {"x": {"field": "x", "type": "quantitative", "scale": {"domain": [0, 260], "nice": false, "zero": false}, "axis": null},
      "y": {"field": "y", "type": "quantitative", "scale": {"domain": [-2.6, 69.4], "nice": false, "zero": false}, "axis": {"title": "Pɢᴀʟ::BUR6", "titleY": 40.7}},
      "y2": {"datum": 0}}},
    {"data": {"values": [{}]}, "mark": {"type": "rule", "color": "#9bdfe6", "strokeWidth": 3.5}, "encoding": {"y": {"datum": 0}}},
    {"data": {"values": [{}]}, "mark": {"type": "text", "text": "reverse", "color": "white", "align": "left", "baseline": "alphabetic", "fontSize": 17, "font": "Open Sans"}, "encoding": {"x": {"datum": 30.5}, "y": {"datum": 56.4}}},
    {"data": {"values": [{}]}, "mark": {"type": "point", "shape": "M1,-0.55L-1,0L1,0.55Z", "filled": true, "color": "white", "opacity": 1, "size": 400, "strokeWidth": 0}, "encoding": {"x": {"datum": 17.3}, "y": {"datum": 61.4}}}
   ]},
  {"width": 260, "height": 94, "view": {"fill": "black"}, "data": {"name": "C"},
   "layer": [
    {"transform": [{"filter": "datum.t==='rYDR1'"}], "mark": {"type": "area", "color": "#9bdfe6", "clip": true},
     "encoding": {"x": {"field": "x", "type": "quantitative", "scale": {"domain": [0, 260], "nice": false, "zero": false}, "axis": null},
      "y": {"field": "y", "type": "quantitative", "scale": {"domain": [-3.3, 90.7], "nice": false, "zero": false}, "axis": {"title": "Pɢᴀʟ::YDR1", "titleY": 52.7}},
      "y2": {"datum": 0}}},
    {"data": {"values": [{}]}, "mark": {"type": "rule", "color": "#9bdfe6", "strokeWidth": 3.5}, "encoding": {"y": {"datum": 0}}}
   ]},
  {"width": 260, "height": 93, "view": {"fill": "black"}, "data": {"name": "C"},
   "layer": [
    {"transform": [{"filter": "datum.t==='rWT'"}], "mark": {"type": "area", "color": "#9bdfe6", "clip": true},
     "encoding": {"x": {"field": "x", "type": "quantitative", "scale": {"domain": [0, 260], "nice": false, "zero": false}, "axis": null},
      "y": {"field": "y", "type": "quantitative", "scale": {"domain": [-2.3, 90.7], "nice": false, "zero": false}, "axis": {"title": "wild type", "titleY": 49.7, "titleFontStyle": "normal", "titleFontSize": 18.5}},
      "y2": {"datum": 0}}},
    {"data": {"values": [{}]}, "mark": {"type": "rule", "color": "#9bdfe6", "strokeWidth": 3.5}, "encoding": {"y": {"datum": 0}}}
   ]}
  ]}
 ]},
 {"spacing": 0, "vconcat": [
  {"width": 1, "height": 124.8, "data": {"values": [{}]}, "mark": {"type": "text", "text": ""}},
  {"spacing": -1, "vconcat": [
  {"width": 317.7, "height": 93, "view": {"fill": "black"}, "data": {"name": "D"},
   "title": {"text": "D", "dx": -81.7, "offset": 34.7},
   "layer": [
    {"transform": [{"filter": "datum.t==='BUR6'"}], "mark": {"type": "area", "color": "#9bdfe6", "clip": true},
     "encoding": {"x": {"field": "x", "type": "quantitative", "scale": {"domain": [0, 317.7], "nice": false, "zero": false}, "axis": null},
      "y": {"field": "y", "type": "quantitative", "scale": {"domain": [-5, 88], "nice": false, "zero": false}, "axis": {"title": "Pɢᴀʟ::BUR6", "titleY": 52.3}},
      "y2": {"datum": 0}}},
    {"data": {"values": [{}]}, "mark": {"type": "rule", "color": "#9bdfe6", "strokeWidth": 3.5}, "encoding": {"y": {"datum": 0}}},
    {"data": {"values": [{}]}, "mark": {"type": "text", "text": "forward", "color": "white", "align": "left", "baseline": "alphabetic", "fontSize": 17, "font": "Open Sans"}, "encoding": {"x": {"datum": 0.3}, "y": {"datum": 70.7}}},
    {"data": {"values": [{}]}, "mark": {"type": "point", "shape": "M-1,-0.55L1,0L-1,0.55Z", "filled": true, "color": "white", "opacity": 1, "size": 372, "strokeWidth": 0}, "encoding": {"x": {"datum": 80}, "y": {"datum": 76.3}}}
   ]},
  {"width": 317.7, "height": 93, "view": {"fill": "black"}, "data": {"name": "D"},
   "layer": [
    {"transform": [{"filter": "datum.t==='YDR1'"}], "mark": {"type": "area", "color": "#9bdfe6", "clip": true},
     "encoding": {"x": {"field": "x", "type": "quantitative", "scale": {"domain": [0, 317.7], "nice": false, "zero": false}, "axis": null},
      "y": {"field": "y", "type": "quantitative", "scale": {"domain": [-5, 88], "nice": false, "zero": false}, "axis": {"title": "Pɢᴀʟ::YDR1", "titleY": 50.3}},
      "y2": {"datum": 0}}},
    {"data": {"values": [{}]}, "mark": {"type": "rule", "color": "#9bdfe6", "strokeWidth": 3.5}, "encoding": {"y": {"datum": 0}}}
   ]},
  {"width": 317.7, "height": 93, "view": {"fill": "black"}, "data": {"name": "D"},
   "layer": [
    {"transform": [{"filter": "datum.t==='WT'"}], "mark": {"type": "area", "color": "#9bdfe6", "clip": true},
     "encoding": {"x": {"field": "x", "type": "quantitative", "scale": {"domain": [0, 317.7], "nice": false, "zero": false}, "axis": null},
      "y": {"field": "y", "type": "quantitative", "scale": {"domain": [-5, 88], "nice": false, "zero": false}, "axis": {"title": "wild type", "titleY": 54.3, "titleFontStyle": "normal", "titleFontSize": 18.5}},
      "y2": {"datum": 0}}},
    {"data": {"values": [{}]}, "mark": {"type": "rule", "color": "#9bdfe6", "strokeWidth": 3.5}, "encoding": {"y": {"datum": 0}}}
   ]},
  {"width": 317.7, "height": 60, "view": {"fill": "black"},
   "data": {"values": [
     {"g": "YDR509w", "s": 13.3, "e": 63.3, "m": 38.3, "l": "w"},
     {"g": "YDR510w", "s": 230, "e": 292.3, "m": 261, "l": "w"},
     {"g": "YDR508c", "s": 0.7, "e": 34.3, "m": 0.7, "l": "c"}]},
   "encoding": {"y": {"field": "l", "type": "nominal", "scale": {"domain": ["w", "c"], "paddingInner": 0.02, "paddingOuter": 0.093, "align": 0}, "axis": null}},
   "layer": [
    {"transform": [{"filter": "datum.g==='YDR509w'"}], "mark": {"type": "rect", "color": "white"}, "encoding": {"x": {"field": "s", "type": "quantitative", "scale": {"domain": [0, 317.7], "nice": false, "zero": false}, "axis": null}, "x2": {"field": "e"}}},
    {"transform": [{"filter": "datum.g!=='YDR509w'"}], "mark": {"type": "rect", "color": "#9bdfe6"}, "encoding": {"x": {"field": "s", "type": "quantitative"}, "x2": {"field": "e"}}},
    {"transform": [{"filter": "datum.g==='YDR509w'"}], "mark": {"type": "text", "align": "center", "fontSize": 11, "fontStyle": "italic", "font": "Open Sans", "color": "#1a1a1a", "baseline": "middle"}, "encoding": {"x": {"field": "m", "type": "quantitative"}, "text": {"field": "g"}}},
    {"transform": [{"filter": "datum.g==='YDR510w'"}], "mark": {"type": "text", "align": "center", "fontSize": 14, "fontStyle": "italic", "font": "Open Sans", "color": "#1a1a1a", "baseline": "middle"}, "encoding": {"x": {"field": "m", "type": "quantitative"}, "text": {"field": "g"}}},
    {"transform": [{"filter": "datum.g==='YDR508c'"}], "mark": {"type": "text", "align": "left", "dx": 3, "fontSize": 14, "fontStyle": "italic", "font": "Open Sans", "color": "white", "baseline": "middle"}, "encoding": {"x": {"field": "m", "type": "quantitative"}, "text": {"field": "g"}}},
    {"transform": [{"filter": "datum.g==='YDR510w'"}], "mark": {"type": "point", "shape": "M-1,-1L1,0L-1,1Z", "filled": true, "color": "white", "opacity": 1, "size": 511, "strokeWidth": 0, "xOffset": 11.3}, "encoding": {"x": {"field": "e", "type": "quantitative"}}}
   ]}
  ]}
 ]}
]}
],
"config": {
 "view": {"stroke": null},
 "font": "Open Sans",
 "axis": {"domain": false, "ticks": false, "labels": false, "grid": false},
 "axisY": {"titleAngle": 0, "titleAlign": "left", "titleBaseline": "alphabetic", "titleX": -87, "titleFont": "Open Sans", "titleFontSize": 16.5, "titleFontWeight": "normal", "titleFontStyle": "italic", "titleColor": "black"},
 "title": {"font": "Liberation Sans", "fontSize": 30, "fontWeight": "normal", "anchor": "start", "frame": "group", "baseline": "alphabetic", "color": "black"}
}
}
